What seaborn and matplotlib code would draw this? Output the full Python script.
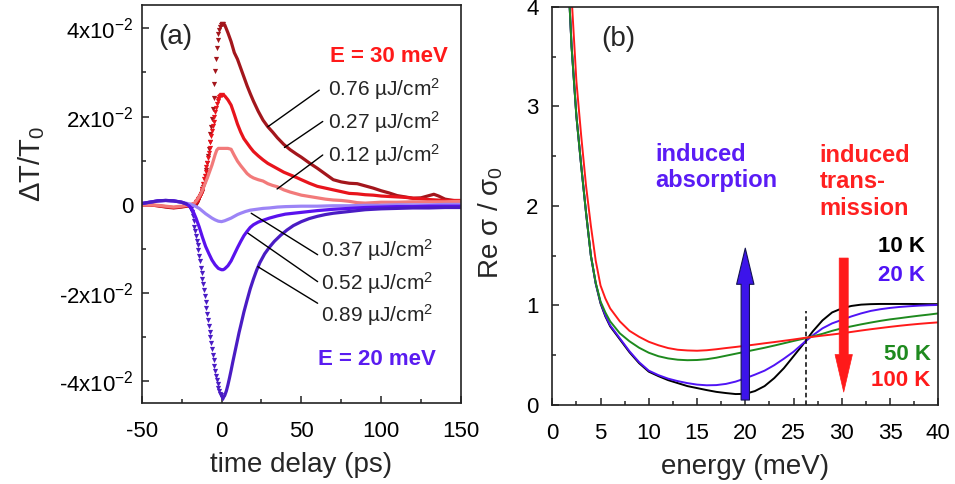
import numpy as np
import pandas as pd
import seaborn as sns
import matplotlib
matplotlib.use("Agg")
from matplotlib import pyplot as plt
from matplotlib.ticker import MultipleLocator, FixedLocator, FixedFormatter

# ---------------- panel (a): differential transmission traces ----------------
# red traces (E = 30 meV)
t_flat_red = [-50, -45, -40, -35, -30, -25, -20, -17]
flat_076 = [0.0, 0.0, -0.0002, -0.0005, -0.0007, -0.0005, -0.0002, 0.0003]
flat_027 = [0.0, 0.0, -0.0002, -0.0004, -0.0006, -0.0004, -0.0001, 0.0003]

t_rise_076 = np.arange(-16, 1.5, 0.5)
rise_076 = [0.0003, 0.0005, 0.0008, 0.0011, 0.0015, 0.002, 0.0025, 0.003, 0.0035, 0.0041,
            0.0048, 0.0056, 0.0065, 0.0079, 0.0094, 0.011, 0.0126, 0.0143, 0.016, 0.0177,
            0.0195, 0.0218, 0.0243, 0.0273, 0.0303, 0.033, 0.0355, 0.0373, 0.0387, 0.0397,
            0.0403, 0.0407, 0.041, 0.0411, 0.0411]
t_rise_027 = np.arange(-16, 0.5, 0.5)
rise_027 = [0.0006, 0.0008, 0.001, 0.0013, 0.0016, 0.002, 0.0025, 0.0031, 0.0037, 0.0047,
            0.0058, 0.0066, 0.0075, 0.0085, 0.0095, 0.0106, 0.0118, 0.013, 0.0142, 0.0155,
            0.0167, 0.0178, 0.0188, 0.0199, 0.021, 0.0219, 0.0228, 0.0235, 0.0241, 0.0245,
            0.0247, 0.0249, 0.0249]

t_decay_076 = [2, 4, 6, 8, 10, 12, 14, 16, 18, 20, 23, 26, 29, 32, 35, 39, 43, 47, 50, 55,
               60, 65, 70, 75, 80, 85, 90, 95, 100, 105, 110, 115, 120, 125, 130, 133, 136,
               140, 145, 150]
decay_076 = [0.0408, 0.039, 0.037, 0.0345, 0.033, 0.031, 0.029, 0.027, 0.0252, 0.0235,
             0.0212, 0.0192, 0.0177, 0.0165, 0.0152, 0.0137, 0.0125, 0.0115, 0.0108, 0.0095,
             0.0083, 0.007, 0.0057, 0.0052, 0.0049, 0.0048, 0.0043, 0.0038, 0.0032, 0.0027,
             0.0021, 0.0018, 0.0015, 0.0016, 0.0021, 0.0024, 0.002, 0.0013, 0.001, 0.0008]
t_decay_027 = [1, 2, 4, 6, 8, 10, 12, 14, 16, 18, 20, 23, 26, 29, 32, 35, 39, 43, 47, 50,
               55, 60, 65, 70, 75, 80, 85, 90, 95, 100, 105, 110, 115, 120, 125, 130, 135,
               140, 145, 150]
decay_027 = [0.0249, 0.0247, 0.0238, 0.0226, 0.0205, 0.0183, 0.0165, 0.015, 0.014, 0.013,
             0.0121, 0.0111, 0.0102, 0.0094, 0.0088, 0.0082, 0.0074, 0.0068, 0.0062, 0.0057,
             0.0049, 0.0042, 0.0038, 0.0034, 0.003, 0.0026, 0.0025, 0.0023, 0.0022, 0.002,
             0.0019, 0.0018, 0.0017, 0.0015, 0.0014, 0.0012, 0.0011, 0.001, 0.001, 0.001]

t_012 = [-50, -45, -40, -35, -30, -25, -20, -17, -16, -15, -14, -13, -12, -11, -10, -9, -8,
         -7, -6, -5, -4, -3, -2, 0, 2, 4, 6, 8, 10, 12, 14, 16, 18, 20, 23, 26, 29, 32, 35,
         39, 43, 47, 50, 55, 60, 65, 70, 75, 80, 85, 90, 95, 100, 110, 120, 130, 140, 150]
v_012 = [0.0, 0.0, -0.0001, -0.0003, -0.0005, -0.0003, 0.0, 0.0004, 0.0008, 0.0013, 0.0019,
         0.0025, 0.0033, 0.0042, 0.0051, 0.006, 0.007, 0.008, 0.009, 0.0102, 0.0114, 0.0124,
         0.0128, 0.0128, 0.0128, 0.0128, 0.0126, 0.0112, 0.0099, 0.0089, 0.008, 0.0071,
         0.0065, 0.0061, 0.0057, 0.0054, 0.0048, 0.0044, 0.0041, 0.0034, 0.0029, 0.0025,
         0.0022, 0.0019, 0.0016, 0.0013, 0.0011, 0.001, 0.0008, 0.0005, 0.0004, 0.0005,
         0.0006, 0.0006, 0.0007, 0.0007, 0.0007, 0.0008]

# blue traces (E = 20 meV)
t_037 = [-50, -45, -40, -35, -30, -25, -20, -17, -14, -12, -10, -8, -6, -4, -2, 0, 2, 4, 6,
         8, 10, 12, 15, 18, 22, 26, 30, 35, 40, 50, 60, 70, 80, 90, 100, 110, 120, 130, 140,
         150]
v_037 = [0.0003, 0.0006, 0.0009, 0.001, 0.0009, 0.0006, 0.0002, -0.0002, -0.0008, -0.0014,
         -0.002, -0.0025, -0.003, -0.0034, -0.0037, -0.0038, -0.0036, -0.0033, -0.003,
         -0.0026, -0.0022, -0.0019, -0.0015, -0.0012, -0.001, -0.0008, -0.0007, -0.0005,
         -0.0004, -0.0003, -0.0003, -0.0002, -0.0002, -0.0001, -0.0001, 0.0, 0.0, 0.0,
         0.0001, 0.0001]

t_052 = [-50, -45, -40, -35, -30, -25, -22, -20, -18, -16, -14, -12, -10, -8, -6, -4, -2, 0,
         1, 2, 4, 6, 8, 10, 12, 14, 16, 18, 20, 23, 26, 30, 35, 40, 45, 50, 60, 70, 80, 90,
         100, 110, 120, 130, 140, 150]
v_052 = [0.0003, 0.0006, 0.0009, 0.001, 0.0009, 0.0006, 0.0002, -0.0003, -0.0013, -0.003,
         -0.005, -0.0073, -0.0094, -0.011, -0.0125, -0.0136, -0.0144, -0.0147, -0.0147,
         -0.0145, -0.0138, -0.0127, -0.0112, -0.0097, -0.0083, -0.007, -0.006, -0.0051,
         -0.0045, -0.0039, -0.0035, -0.003, -0.0025, -0.0021, -0.0019, -0.0017, -0.0013,
         -0.001, -0.0008, -0.0006, -0.0005, -0.0004, -0.0004, -0.0003, -0.0003, -0.0003]

t_flat_089 = [-50, -45, -40, -35, -30, -25, -22]
flat_089 = [0.0003, 0.0006, 0.0009, 0.001, 0.0009, 0.0006, 0.0002]
t_drop_089 = np.arange(-21, 1.5, 0.5)
drop_089 = [0.0, -0.0002, -0.0004, -0.0006, -0.0009, -0.0016, -0.0025, -0.0037, -0.005,
            -0.006, -0.007, -0.0081, -0.0092, -0.0103, -0.0115, -0.0128, -0.0142, -0.0155,
            -0.0168, -0.018, -0.0193, -0.0206, -0.022, -0.0234, -0.0248, -0.0262, -0.0275,
            -0.0288, -0.03, -0.0313, -0.0327, -0.034, -0.0352, -0.0365, -0.0377, -0.0388,
            -0.0398, -0.0407, -0.0416, -0.0422, -0.0428, -0.0432, -0.0436, -0.0437, -0.0438]
t_rec_089 = [2, 3, 4, 5, 6, 7, 8, 9, 10, 11, 12, 14, 16, 18, 20, 22, 24, 27, 30, 33, 37, 41,
             45, 50, 55, 60, 65, 70, 80, 90, 100, 110, 120, 130, 140, 150]
rec_089 = [-0.0432, -0.0422, -0.0408, -0.0392, -0.0375, -0.0357, -0.034, -0.0323, -0.0306,
           -0.0289, -0.0274, -0.0243, -0.0216, -0.019, -0.0168, -0.0148, -0.0131, -0.0111,
           -0.0096, -0.0083, -0.0069, -0.0057, -0.0047, -0.0038, -0.0031, -0.0026, -0.0022,
           -0.0019, -0.0015, -0.0011, -0.0009, -0.0008, -0.0007, -0.0007, -0.0006, -0.0006]

fluence_labels = ["0.76", "0.27", "0.12", "0.37", "0.52", "0.89"]
# text anchor (left, centre) and leader line (curve point -> text end)
label_pos = [(66.9, 0.0262), (66.9, 0.0188), (66.9, 0.0113),
             (62.3, -0.0102), (62.3, -0.0177), (62.3, -0.0250)]
leader_from = [(29, 0.0177), (39.4, 0.013), (34.8, 0.0036),
               (18.6, -0.0019), (16.5, -0.0064), (22.7, -0.014)]
leader_to = [(61.2, 0.026), (63.4, 0.0189), (63.4, 0.0113),
             (60.2, -0.0113), (60.2, -0.0174), (60.2, -0.0223)]

c076, c027, c012 = "#a3161c", "#e8141c", "#f27a7a"
c037, c052, c089 = "#9c84f6", "#5a12ee", "#4a1cc4"

# ---------------- panel (b): Re sigma / sigma0 ----------------
energy = [1.8, 2.0, 2.5, 3.0, 3.5, 4.0, 4.5, 5.0, 5.5, 6.0, 7, 8, 9, 10, 11, 12, 13, 14, 15,
          16, 17, 18, 19, 20, 21, 22, 23, 24, 25, 26, 27, 28, 29, 30, 31, 32, 33, 34, 35, 36,
          37, 38, 39, 40]
sigma_10K = [4.0, 3.6, 2.9, 2.4, 1.93, 1.5, 1.22, 1.02, 0.89, 0.79, 0.66, 0.53, 0.42, 0.335,
             0.29, 0.25, 0.22, 0.19, 0.17, 0.15, 0.132, 0.12, 0.11, 0.112, 0.14, 0.19, 0.27,
             0.37, 0.49, 0.61, 0.74, 0.85, 0.93, 0.97, 0.995, 1.008, 1.013, 1.015, 1.015,
             1.015, 1.015, 1.014, 1.013, 1.013]
sigma_20K = [4.0, 3.6, 2.9, 2.4, 1.93, 1.5, 1.22, 1.03, 0.9, 0.80, 0.67, 0.54, 0.43, 0.345,
             0.3, 0.265, 0.24, 0.22, 0.205, 0.198, 0.2, 0.212, 0.235, 0.268, 0.305, 0.345,
             0.4, 0.465, 0.535, 0.62, 0.7, 0.77, 0.82, 0.855, 0.89, 0.92, 0.945, 0.962, 0.975,
             0.985, 0.992, 0.998, 1.002, 1.005]
sigma_50K = [4.0, 3.6, 2.9, 2.4, 1.93, 1.5, 1.23, 1.04, 0.93, 0.84, 0.72, 0.64, 0.575, 0.525,
             0.49, 0.468, 0.455, 0.45, 0.452, 0.46, 0.475, 0.495, 0.515, 0.535, 0.555, 0.575,
             0.597, 0.62, 0.643, 0.665, 0.69, 0.715, 0.745, 0.77, 0.79, 0.81, 0.828, 0.845,
             0.86, 0.872, 0.885, 0.897, 0.908, 0.92]
sigma_100K = [4.5, 4.1, 3.25, 2.7, 2.2, 1.8, 1.45, 1.2, 1.07, 0.97, 0.84, 0.745, 0.685, 0.635,
              0.6, 0.572, 0.555, 0.548, 0.545, 0.55, 0.56, 0.572, 0.583, 0.595, 0.607, 0.62,
              0.632, 0.645, 0.658, 0.672, 0.685, 0.697, 0.708, 0.72, 0.734, 0.748, 0.761,
              0.773, 0.785, 0.796, 0.806, 0.815, 0.823, 0.83]
temps = ["10 K", "20 K", "50 K", "100 K"]
temp_colors = ["#000000", "#5014f5", "#1e8a1e", "#ff1a1a"]
crossing_energy = 26.3

# ---------------- style ----------------
sns.set_theme(style="ticks")
plt.rcParams["font.family"] = ["Liberation Sans", "DejaVu Sans"]
plt.rcParams["mathtext.fontset"] = "custom"
plt.rcParams["mathtext.rm"] = "Liberation Sans"
plt.rcParams["mathtext.it"] = "Liberation Sans:italic"
plt.rcParams["mathtext.bf"] = "Liberation Sans:bold"
plt.rcParams["axes.unicode_minus"] = False

fig = plt.figure(figsize=(9.55, 4.84), dpi=100)
ax1 = fig.add_axes([0.1484, 0.1674, 0.3343, 0.8223])
ax2 = fig.add_axes([0.5783, 0.1632, 0.4042, 0.8229])

lw_tr = 2.3
mk = dict(marker="v", s=14, linewidth=0)

# red traces
for tf, vf, tr, vr, td, vd, c in [(t_flat_red, flat_076, t_rise_076, rise_076, t_decay_076, decay_076, c076),
                                  (t_flat_red, flat_027, t_rise_027, rise_027, t_decay_027, decay_027, c027)]:
    sns.lineplot(x=tf, y=vf, ax=ax1, color=c, lw=lw_tr)
    sns.scatterplot(x=tr, y=vr, ax=ax1, color=c, **mk)
    sns.lineplot(x=td, y=vd, ax=ax1, color=c, lw=lw_tr)
sns.lineplot(x=t_012, y=v_012, ax=ax1, color=c012, lw=lw_tr)

# blue traces
sns.lineplot(x=t_037, y=v_037, ax=ax1, color=c037, lw=lw_tr)
sns.lineplot(x=t_052, y=v_052, ax=ax1, color=c052, lw=lw_tr)
sns.lineplot(x=t_flat_089, y=flat_089, ax=ax1, color=c089, lw=lw_tr)
sns.scatterplot(x=t_drop_089, y=drop_089, ax=ax1, color=c089, **mk)
sns.lineplot(x=t_rec_089, y=rec_089, ax=ax1, color=c089, lw=lw_tr)

for lab, (tx, ty), p0, p1 in zip(fluence_labels, label_pos, leader_from, leader_to):
    ax1.plot([p0[0], p1[0]], [p0[1], p1[1]], color="black", lw=1.0)
    ax1.text(tx, ty, lab + r" µJ/cm$^{2}$", fontsize=15, ha="left", va="center")

ax1.text(141.5, 0.0337, "E = 30 meV", color="#ff1a1a", fontsize=16, fontweight="bold",
         ha="right", va="center")
ax1.text(134, -0.0351, "E = 20 meV", color="#5a1cf0", fontsize=16, fontweight="bold",
         ha="right", va="center")
ax1.text(-39.5, 0.0381, "(a)", fontsize=20, ha="left", va="center")

ax1.set_xlim(-50, 150)
ax1.set_ylim(-0.0449, 0.0453)
ax1.xaxis.set_major_locator(MultipleLocator(50))
ax1.xaxis.set_minor_locator(MultipleLocator(25))
ytv = [-0.04, -0.02, 0, 0.02, 0.04]
ax1.yaxis.set_major_locator(FixedLocator(ytv))
ax1.yaxis.set_major_formatter(FixedFormatter([r"-4x10$^{-2}$", r"-2x10$^{-2}$", "0",
                                              r"2x10$^{-2}$", r"4x10$^{-2}$"]))
ax1.yaxis.set_minor_locator(MultipleLocator(0.01))
ax1.set_xlabel("time delay (ps)", fontsize=20, labelpad=7)
ax1.set_ylabel(r"ΔT/T$_0$", fontsize=21)
ax1.yaxis.set_label_coords(-0.297, 0.6)

# panel (b)
sig_df = pd.DataFrame({
    "energy": energy * 4,
    "sigma": sigma_10K + sigma_20K + sigma_50K + sigma_100K,
    "T": [t for t in temps for _ in energy],
})
sns.lineplot(data=sig_df, x="energy", y="sigma", hue="T", hue_order=temps,
             palette=temp_colors, lw=1.4, legend=False, ax=ax2)
ax2.plot([crossing_energy, crossing_energy], [0, 0.94], color="black", lw=1.1, ls=(0, (3, 2)))

ax2.annotate("", xy=(20, 1.575), xytext=(20, 0.05),
             arrowprops=dict(arrowstyle="simple,head_length=2.6,head_width=1.25,tail_width=0.6",
                             mutation_scale=10, fc="#3c14ea", ec="#141450", lw=0.8,
                             shrinkA=0, shrinkB=0))
ax2.annotate("", xy=(30.2, 0.13), xytext=(30.2, 1.476),
             arrowprops=dict(arrowstyle="simple,head_length=2.7,head_width=1.25,tail_width=0.65",
                             mutation_scale=10, fc="#ff1a1a", ec="#ff1a1a", lw=0.5,
                             shrinkA=0, shrinkB=0))

ax2.text(10.64, 2.385, "induced\nabsorption", color="#5a1cf5", fontsize=17,
         fontweight="bold", ha="left", va="center")
ax2.text(27.7, 2.24, "induced\ntrans-\nmission", color="#ff2020", fontsize=17,
         fontweight="bold", ha="left", va="center")
temp_pos = [(38.6, 1.59), (38.6, 1.305), (39.2, 0.512), (39.2, 0.244)]
for lab, c, (x, y) in zip(temps, temp_colors, temp_pos):
    ax2.text(x, y, lab, color=c, fontsize=16, fontweight="bold", ha="right", va="center")
ax2.text(5.1, 3.68, "(b)", fontsize=20, ha="left", va="center")

ax2.set_xlim(0, 40)
ax2.set_ylim(0, 4)
ax2.xaxis.set_major_locator(MultipleLocator(5))
ax2.xaxis.set_minor_locator(MultipleLocator(2.5))
ax2.yaxis.set_major_locator(MultipleLocator(1))
ax2.yaxis.set_minor_locator(MultipleLocator(0.5))
ax2.set_xlabel("energy (meV)", fontsize=20, labelpad=7)
ax2.set_ylabel(r"Re σ / σ$_0$", fontsize=20)
ax2.yaxis.set_label_coords(-0.123, 0.457)

for ax, ypad in ((ax1, 6), (ax2, 10)):
    for sp in ax.spines.values():
        sp.set_visible(True)
        sp.set_linewidth(1.2)
        sp.set_color("#222222")
    ax.tick_params(which="both", direction="in", top=False, right=False,
                   labelsize=16, width=1.1, color="#222222", labelcolor="black")
    ax.tick_params(which="major", length=5)
    ax.tick_params(which="minor", length=3)
    ax.tick_params(axis="x", pad=13)
    ax.tick_params(axis="y", pad=ypad)

fig.savefig("out.png", dpi=100)
